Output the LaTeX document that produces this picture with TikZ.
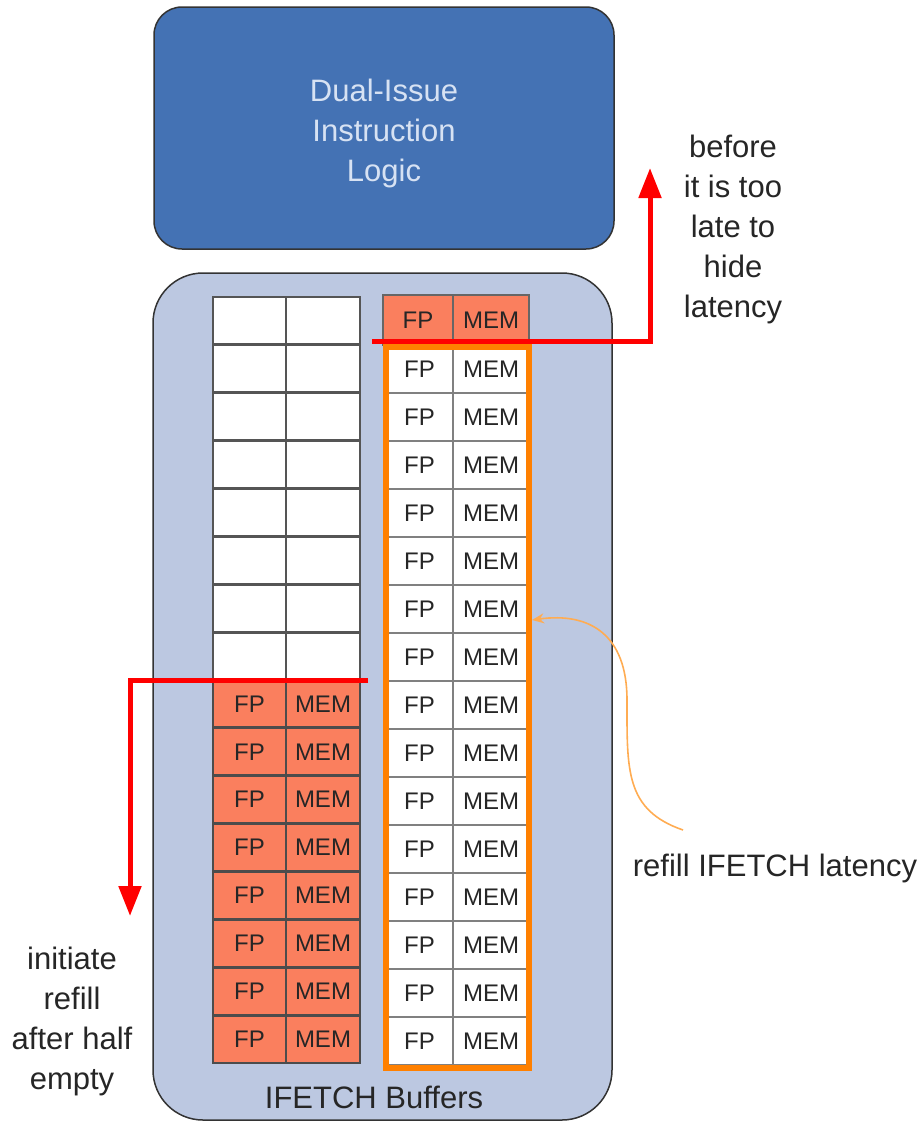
\documentclass[tikz,border=0pt]{standalone}
\usepackage{fontspec}
\setmainfont{Liberation Sans}
\usetikzlibrary{arrows.meta}
\usetikzlibrary{positioning}
\definecolor{issueblue}{RGB}{68,114,180}
\definecolor{issuetext}{RGB}{215,226,243}
\definecolor{bufferblue}{RGB}{188,200,225}
\definecolor{fullcell}{RGB}{250,127,94}
\definecolor{refillorange}{RGB}{255,128,0}
\definecolor{curveorange}{RGB}{255,172,82}
\definecolor{gridgray}{RGB}{85,85,85}

\begin{document}
\begin{tikzpicture}[x=1pt,y=-1pt,
    bigtext/.style={font=\fontsize{31}{40}\selectfont,align=center,text=black!85},
    celltext/.style={font=\fontsize{24}{28}\selectfont,text=black!85},
    cell/.style={draw=gridgray,line width=2.8pt,minimum height=47.9pt,inner sep=0pt},
    redline/.style={draw=red,line width=5pt,-{Triangle[length=30pt,width=22pt]}}]
\useasboundingbox (0,0) rectangle (923,1122);

\begin{scope}[every node/.style={draw=black!80,line width=1.5pt}]
    \node[fill=issueblue,rounded corners=28pt,minimum width=460pt,minimum height=242pt,
          bigtext,text=issuetext] (issue) at (384,128) {};
    \node[bigtext,text=issuetext,draw=none] (issuelabel) at (384,133) {Dual-Issue\\Instruction\\Logic};
    \node[fill=bufferblue,rounded corners=50pt,minimum width=459pt,minimum height=847pt] (buffers) at (382.5,696.5) {};
\end{scope}

\foreach \i in {0,...,15} {
    \pgfmathsetmacro{\ycell}{297+47.875*(\i+0.5)}
    \ifnum\i<8
        \node[cell,fill=white,minimum width=73pt] (leftfp\i)  at (249.5,\ycell) {};
        \node[cell,fill=white,minimum width=74pt] (leftmem\i) at (323,\ycell) {};
    \else
        \node[cell,fill=fullcell,draw=black!70,minimum width=73pt,celltext] (leftfp\i)  at (249.5,\ycell) {FP};
        \node[cell,fill=fullcell,draw=black!70,minimum width=74pt,celltext] (leftmem\i) at (323,\ycell) {MEM};
    \fi
}

\node[cell,fill=fullcell,draw=black!60,minimum width=70pt,minimum height=50pt,celltext] (rightfp0)  at (418,320) {FP};
\node[cell,fill=fullcell,draw=black!60,minimum width=76pt,minimum height=50pt,celltext] (rightmem0) at (491,320) {MEM};
\foreach \i in {1,...,15} {
    \pgfmathsetmacro{\ycell}{369+48*(\i-1)}
    \node[cell,fill=white,draw=gray,minimum width=67pt,minimum height=48pt,celltext] (rightfp\i)  at (419.5,\ycell) {FP};
    \node[cell,fill=white,draw=gray,minimum width=76pt,minimum height=48pt,celltext] (rightmem\i) at (491,\ycell) {MEM};
}
\node[draw=refillorange,line width=6pt,minimum width=143pt,minimum height=721pt] (refill) at (457.5,707.5) {};

\node[bigtext] (buflabel) at (374,1097) {IFETCH Buffers};
\node[bigtext] (late)     at (733,229)  {before\\it is too\\late to\\hide\\latency};
\node[bigtext] (initiate) at (72,1021)  {initiate\\refill\\after half\\empty};
\node[bigtext] (latency)  at (775,868)  {refill IFETCH latency};

\coordinate (upstart)   at (372,341);
\coordinate (uptip)     at (650,168);
\coordinate (downstart) at (368,680);
\coordinate (downtip)   at (130,916);
\draw[redline] (upstart) -| (uptip);
\draw[redline] (downstart) -| (downtip);

\coordinate (curvestart) at (683,830);
\coordinate (curvemid)   at (627,700);
\draw[curveorange,line width=1.6pt,-{Stealth[length=12pt,width=10pt]}]
    (curvestart) .. controls (625,810) and (627,770) .. (curvemid)
    .. controls (627,635) and (590,612) .. (refill.east |- 0,620);
\end{tikzpicture}
\end{document}
